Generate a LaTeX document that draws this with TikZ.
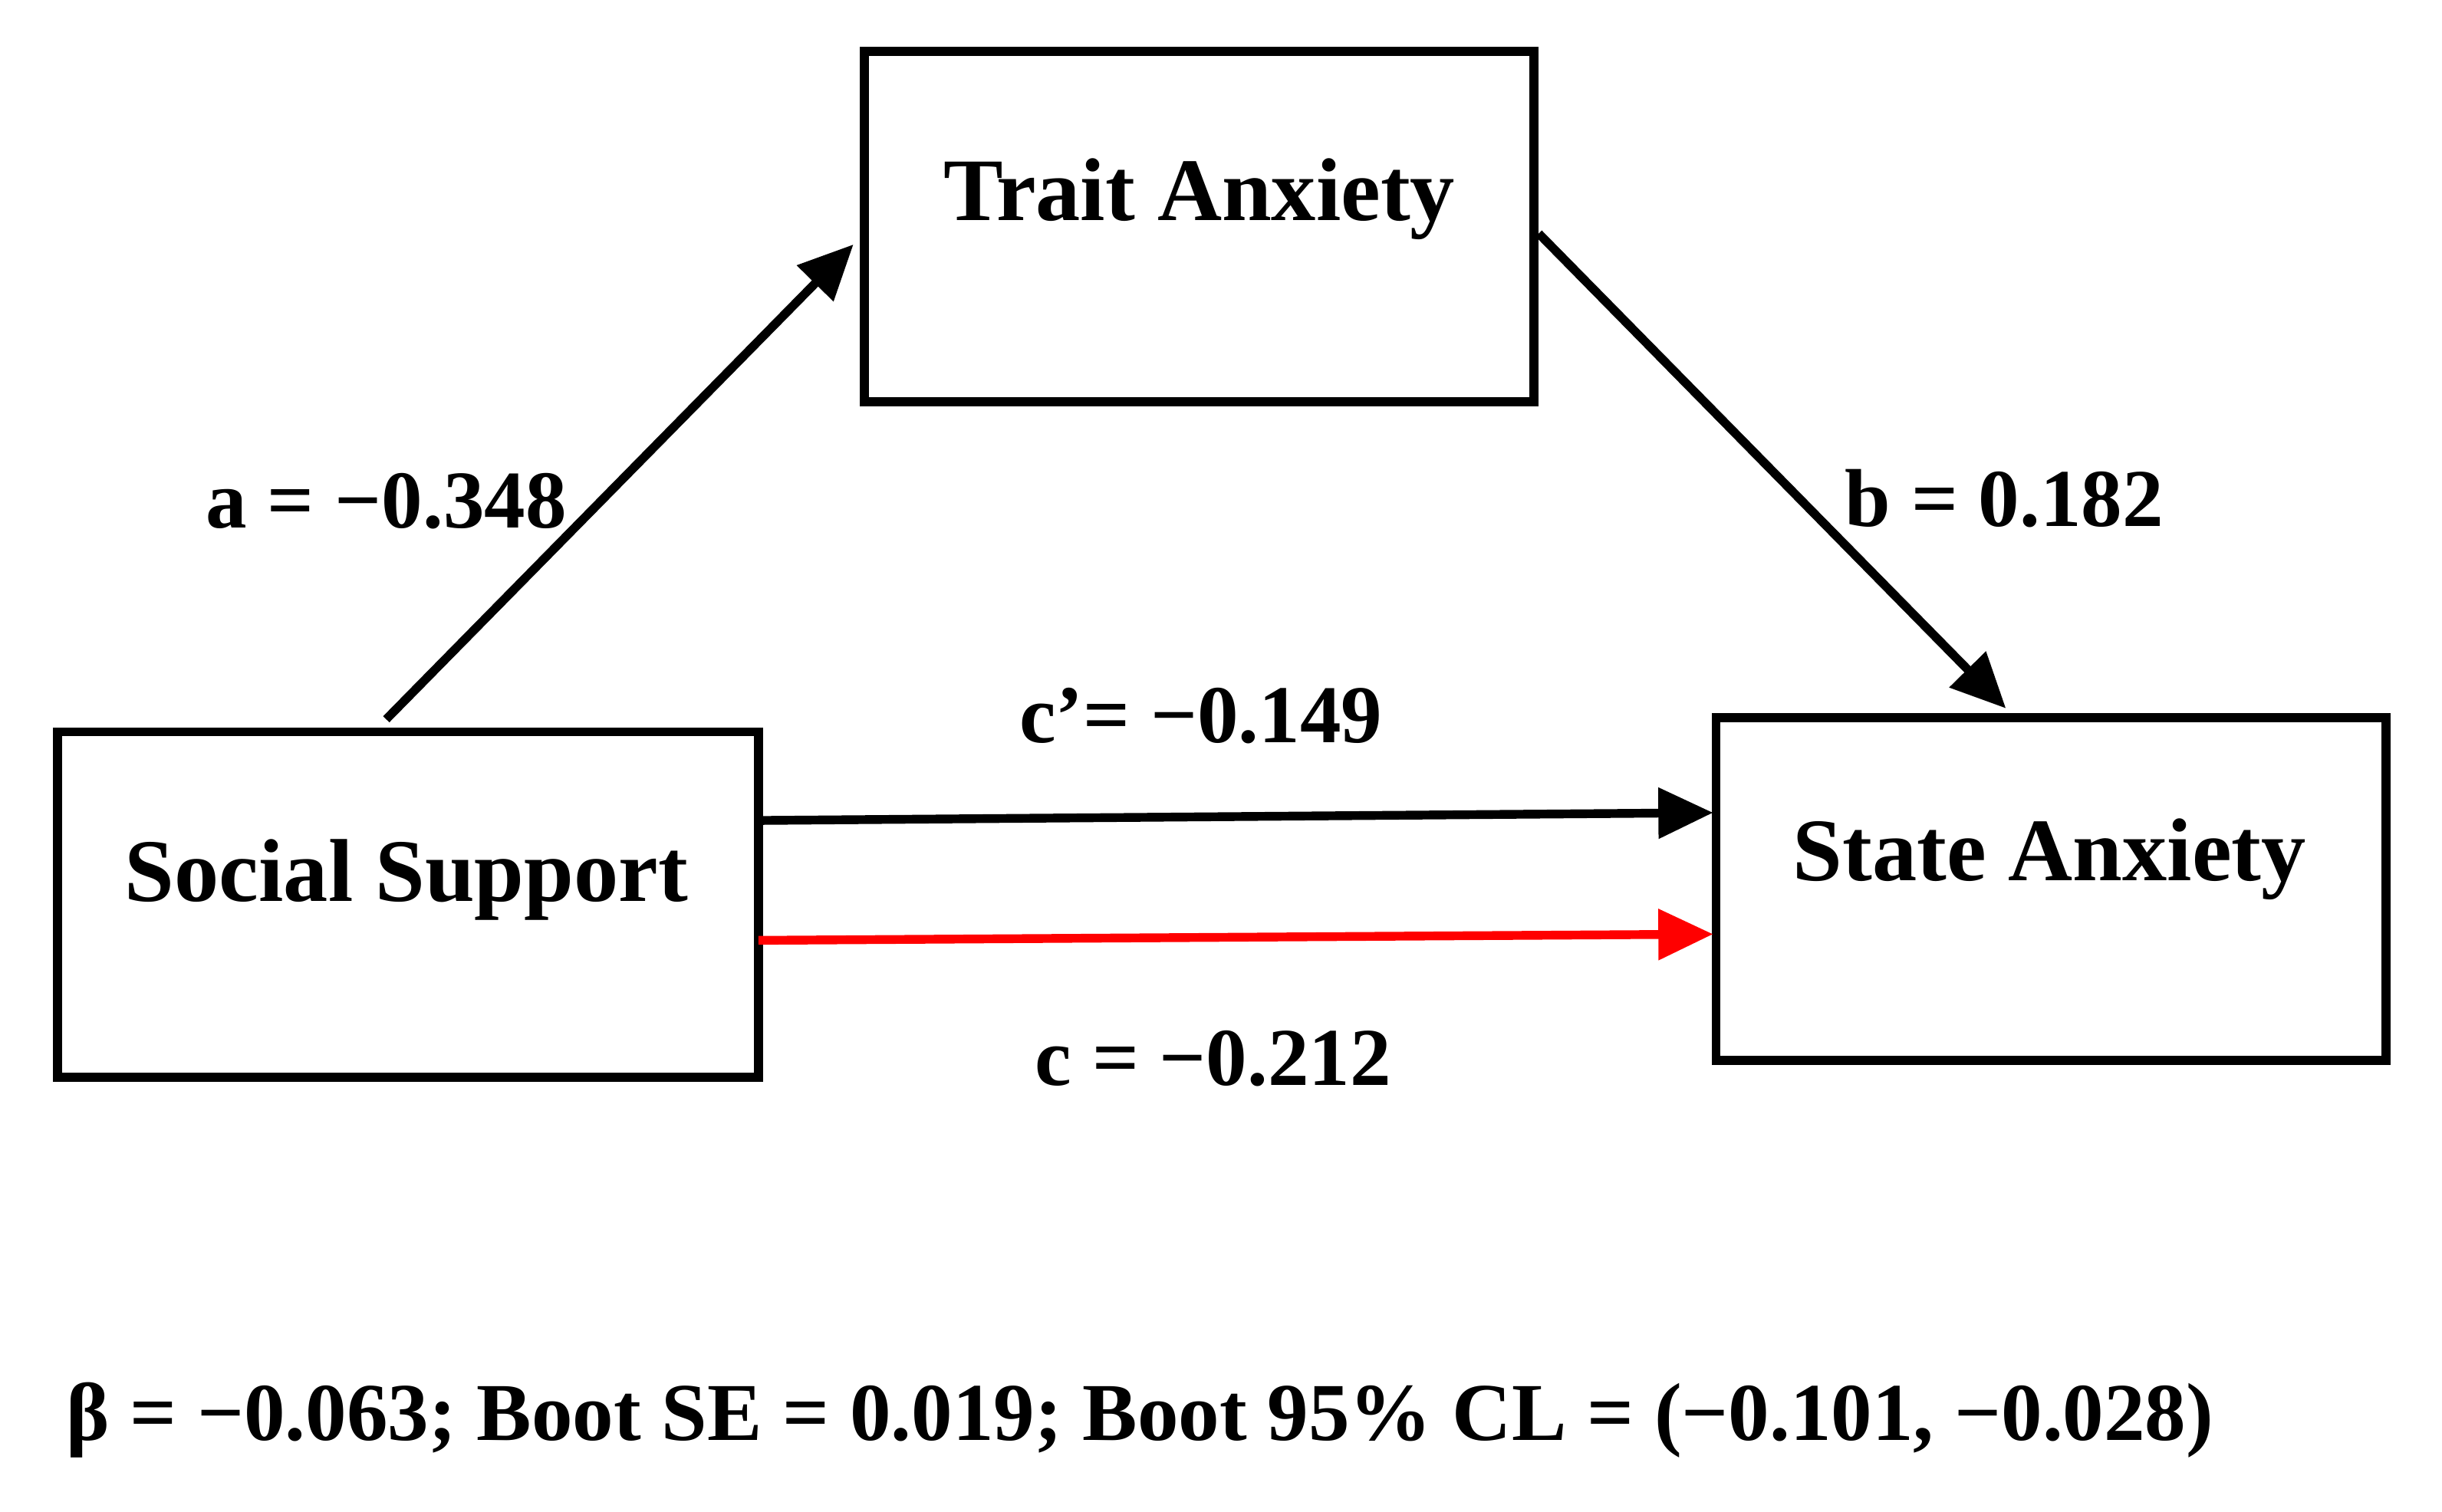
\documentclass[tikz,border=0pt]{standalone}
\usepackage{fontspec}
\setmainfont{Liberation Serif}
\usetikzlibrary{arrows.meta}
\begin{document}
\begin{tikzpicture}[x=0.01cm,y=-0.01cm,
 box/.style={line width=1.6pt},
 arr/.style={line width=1.6pt,-{Triangle[length=10pt,width=9pt]}},
 lab/.style={font=\fontsize{15}{18}\selectfont\bfseries},
 blab/.style={font=\fontsize{16.3}{20}\selectfont\bfseries}]
\useasboundingbox (0,0) rectangle (1568,971);
\draw[box] (555,33) rectangle (985,258);
\coordinate (tw) at (548,157); \coordinate (te) at (988,150);
\node[blab] (tl) at (770,128) {Trait Anxiety};
\draw[box] (37,470) rectangle (487,692);
\node[blab] (sl) at (261,565) {Social Support};
\draw[box] (1102,461) rectangle (1532,681);
\node[blab] (stl) at (1316,552) {State Anxiety};
\coordinate (s1) at (248,462); \coordinate (s2) at (487,527); \coordinate (s3) at (487,604);
\coordinate (e1) at (1288,455); \coordinate (e2) at (1100,522); \coordinate (e3) at (1100,600);
\draw[arr] (s1) -- (tw);
\draw[arr] (te) -- (e1);
\draw[arr] (s2) -- (e2);
\draw[arr,red] (s3) -- (e3);
\node[lab] (la) at (248,322) {a = −0.348};
\node[lab] (lb) at (1287,320) {b = 0.182};
\node[lab] (lc1) at (771,460) {c\char39= −0.149};
\node[lab] (lc) at (779,680) {c = −0.212};
\node[lab,anchor=west] (bot) at (30,912) {β = −0.063; Boot SE = 0.019; Boot 95\% CL = (−0.101, −0.028)};
\end{tikzpicture}
\end{document}
